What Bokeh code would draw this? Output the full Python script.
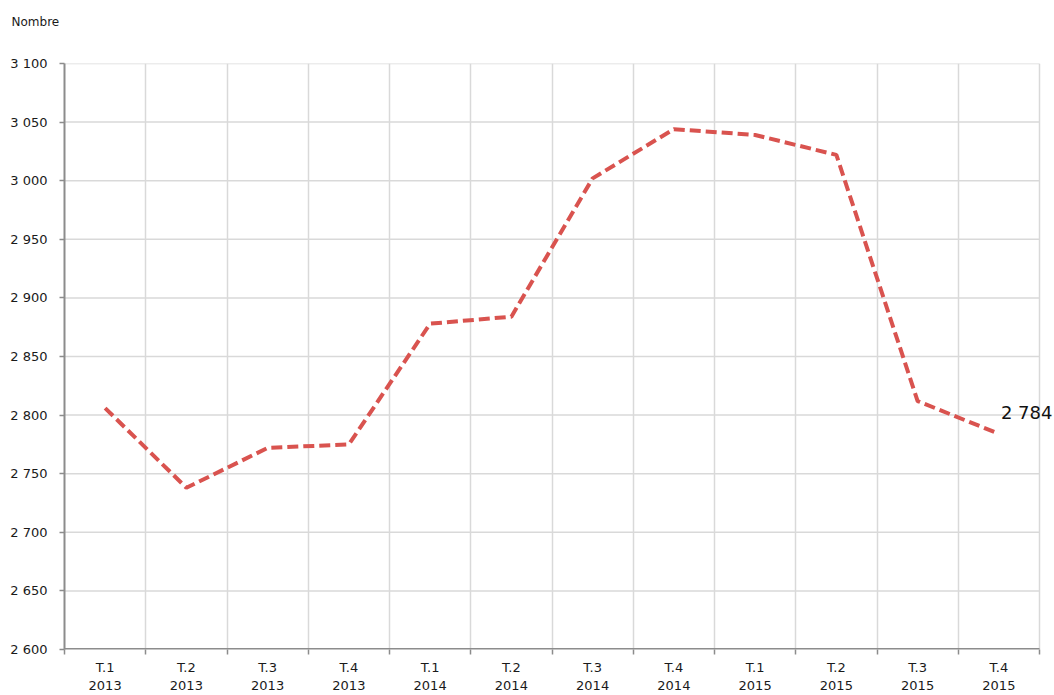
from bokeh.plotting import figure
from bokeh.models import FixedTicker, Label, Range1d, ColumnDataSource
from bokeh.embed import file_html
from bokeh.resources import INLINE

quarters = ["T.1", "T.2", "T.3", "T.4"] * 3
years = ["2013"] * 4 + ["2014"] * 4 + ["2015"] * 4
values = [2806, 2738, 2772, 2775, 2878, 2884, 3002, 3044, 3039, 3022, 2812, 2784]
y_ticks = [2600, 2650, 2700, 2750, 2800, 2850, 2900, 2950, 3000, 3050, 3100]
y_tick_labels = ["2 600", "2 650", "2 700", "2 750", "2 800", "2 850", "2 900",
                 "2 950", "3 000", "3 050", "3 100"]
last_label = "2 784"
y_title = "Nombre"

n = len(values)
xs = list(range(n))
centers = xs
bounds = [i - 0.5 for i in range(n + 1)]
FONT = "DejaVu Sans"
GRID = "#d9d9d9"
AXIS = "#8c8c8c"

W, H = 1054, 695
LEFT, TOP, BOTTOM = 64, 63, 46
plot_px = 1039 - LEFT                      # pixel span of the 12 categories
extra = (W - LEFT - plot_px) / plot_px * n  # room to the right for the end label

p = figure(width=W, height=H, output_backend="svg", toolbar_location=None,
           x_range=Range1d(-0.5, n - 0.5 + extra), y_range=Range1d(2600, 3100),
           min_border_left=LEFT, min_border_right=0, min_border_top=TOP,
           min_border_bottom=BOTTOM, title=y_title + "\n \n ")
p.outline_line_color = None
p.background_fill_color = "white"
p.border_fill_color = "white"

p.title.text_font = FONT
p.title.text_font_size = "12px"
p.title.text_font_style = "normal"
p.title.text_color = "#1a1a1a"
p.title.align = "left"
p.title.offset = -53
p.title.standoff = 14

# vertical grid at category boundaries
p.xgrid.ticker = FixedTicker(ticks=bounds)
p.xgrid.grid_line_color = GRID
p.xgrid.grid_line_width = 1.5
# horizontal grid limited to the category span
p.ygrid.grid_line_color = None
p.segment(x0=[bounds[0]] * (len(y_ticks) - 1), x1=[bounds[-1]] * (len(y_ticks) - 1),
          y0=y_ticks[1:], y1=y_ticks[1:], line_color=GRID, line_width=1.5)
# bottom axis line limited to the category span
p.segment(x0=[bounds[0]], x1=[bounds[-1]], y0=[y_ticks[0]], y1=[y_ticks[0]],
          line_color=AXIS, line_width=3)

src = ColumnDataSource(dict(x=xs, y=values))
p.line("x", "y", source=src, line_color="#d9534f", line_width=4, line_dash="11 5")

# x axis
xa = p.xaxis[0]
xa.ticker = FixedTicker(ticks=centers, minor_ticks=bounds)
xa.major_label_overrides = {i: f"{q}\n{y}" for i, (q, y) in enumerate(zip(quarters, years))}
xa.major_tick_line_color = None
xa.minor_tick_line_color = AXIS
xa.minor_tick_line_width = 1.5
xa.minor_tick_out = 5
xa.minor_tick_in = 0
xa.axis_line_color = None
xa.major_label_text_font = FONT
xa.major_label_text_font_size = "13px"
xa.major_label_text_color = "#1a1a1a"
xa.major_label_standoff = 4

# y axis
ya = p.yaxis[0]
ya.ticker = FixedTicker(ticks=y_ticks)
ya.major_label_overrides = {t: l for t, l in zip(y_ticks, y_tick_labels)}
ya.minor_tick_line_color = None
ya.major_tick_line_color = AXIS
ya.major_tick_line_width = 1.5
ya.major_tick_out = 5
ya.major_tick_in = 0
ya.axis_line_color = AXIS
ya.axis_line_width = 2
ya.major_label_text_font = FONT
ya.major_label_text_font_size = "13px"
ya.major_label_text_color = "#1a1a1a"
ya.major_label_standoff = 12

p.add_layout(Label(x=n - 1, y=values[-1], text=last_label, x_offset=2, y_offset=11,
                   text_baseline="bottom", text_font=FONT, text_font_size="18px",
                   text_color="#111111"))

open("out.html", "w").write(file_html(p, INLINE))
